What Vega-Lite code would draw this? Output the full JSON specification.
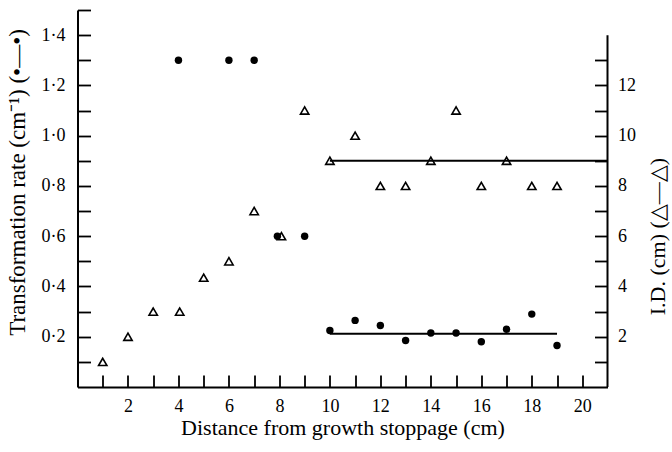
{
  "$schema": "https://vega.github.io/schema/vega-lite/v6.json",
  "width": 530,
  "height": 377,
  "autosize": "none",
  "padding": {"left": 77.5, "top": 10, "right": 64.5, "bottom": 65},
  "background": "white",
  "config": {
    "view": {"stroke": null},
    "font": "Liberation Serif",
    "axis": {
      "grid": false,
      "domainColor": "black",
      "tickColor": "black",
      "labelColor": "black",
      "titleColor": "black",
      "labelFont": "Liberation Serif",
      "titleFont": "Liberation Serif",
      "titleFontWeight": "normal",
      "labelFontSize": 18,
      "titleFontSize": 22,
      "domainWidth": 2,
      "tickWidth": 1.8,
      "tickCount": 100,
      "labelOverlap": false,
      "labelFlush": false
    }
  },
  "datasets": {
    "rate": [
      {"distance": 4, "rate": 1.30},
      {"distance": 6, "rate": 1.30},
      {"distance": 7, "rate": 1.30},
      {"distance": 7.92, "rate": 0.60},
      {"distance": 9, "rate": 0.60},
      {"distance": 10, "rate": 0.225},
      {"distance": 11, "rate": 0.265},
      {"distance": 12, "rate": 0.245},
      {"distance": 13, "rate": 0.185},
      {"distance": 14, "rate": 0.215},
      {"distance": 15, "rate": 0.215},
      {"distance": 16, "rate": 0.18},
      {"distance": 17, "rate": 0.23},
      {"distance": 18, "rate": 0.29},
      {"distance": 19, "rate": 0.165}
    ],
    "id": [
      {"distance": 1, "id": 1},
      {"distance": 2, "id": 2},
      {"distance": 3, "id": 3},
      {"distance": 4.05, "id": 3},
      {"distance": 5, "id": 4.35},
      {"distance": 6, "id": 5},
      {"distance": 7, "id": 7},
      {"distance": 8.08, "id": 6},
      {"distance": 9, "id": 11},
      {"distance": 10, "id": 9},
      {"distance": 11, "id": 10},
      {"distance": 12, "id": 8},
      {"distance": 13, "id": 8},
      {"distance": 14, "id": 9},
      {"distance": 15, "id": 11},
      {"distance": 16, "id": 8},
      {"distance": 17, "id": 9},
      {"distance": 18, "id": 8},
      {"distance": 19, "id": 8}
    ],
    "rateLine": [{"distance": 10, "distance_end": 19, "rate": 0.212}],
    "idLine": [{"distance": 10, "distance_end": 21, "id": 9}]
  },
  "layer": [
    {
      "layer": [
        {
          "data": {"name": "rate"},
          "mark": {"type": "point", "shape": "circle", "filled": true, "color": "black", "size": 55, "opacity": 1},
          "encoding": {
            "x": {
              "field": "distance",
              "type": "quantitative",
              "scale": {"domain": [0, 21], "nice": false, "zero": false},
              "axis": {
                "orient": "bottom",
                "values": [1, 2, 3, 4, 5, 6, 7, 8, 9, 10, 11, 12, 13, 14, 15, 16, 17, 18, 19, 20],
                "format": "d",
                "tickSize": -12,
                "labelPadding": 22,
                "labelExpr": "datum.value % 2 == 0 ? datum.label : ''",
                "title": "Distance from growth stoppage (cm)",
                "titleFontSize": 22,
                "titleX": 265,
                "titleY": 47,
                "titleAlign": "center",
                "titleBaseline": "alphabetic"
              }
            },
            "y": {
              "field": "rate",
              "type": "quantitative",
              "scale": {"domain": [0, 1.5], "nice": false, "zero": false},
              "axis": {
                "orient": "left",
                "values": [0.1, 0.2, 0.3, 0.4, 0.5, 0.6, 0.7, 0.8, 0.9, 1.0, 1.1, 1.2, 1.3, 1.4, 1.5],
                "tickSize": -13,
                "labelPadding": 25.5,
                "labelExpr": "(round(datum.value * 10) % 2 == 0 && datum.value < 1.45) ? replace(format(datum.value, '.1f'), '.', '·') : ''",
                "title": "Transformation rate (cm⁻¹) (•—•)",
                "titleFontSize": 23,
                "titleAngle": 270,
                "titleX": -53,
                "titleY": 172,
                "titleAlign": "center",
                "titleBaseline": "alphabetic"
              }
            }
          }
        },
        {
          "data": {"name": "rateLine"},
          "mark": {"type": "rule", "color": "black", "strokeWidth": 2},
          "encoding": {
            "x": {"field": "distance", "type": "quantitative"},
            "x2": {"field": "distance_end"},
            "y": {"field": "rate", "type": "quantitative"}
          }
        }
      ]
    },
    {
      "layer": [
        {
          "data": {"name": "id"},
          "mark": {"type": "point", "shape": "triangle-up", "filled": false, "color": "black", "strokeWidth": 1.6, "size": 70, "opacity": 1},
          "encoding": {
            "x": {"field": "distance", "type": "quantitative"},
            "y": {
              "field": "id",
              "type": "quantitative",
              "scale": {"domain": [0, 15], "nice": false, "zero": false},
              "axis": {
                "orient": "right",
                "domain": false,
                "values": [1, 2, 3, 4, 5, 6, 7, 8, 9, 10, 11, 12, 13],
                "format": "d",
                "tickSize": -13,
                "labelPadding": 23,
                "labelExpr": "datum.value % 2 == 0 ? datum.label : ''",
                "title": "I.D. (cm) (△—△)",
                "titleFontSize": 22,
                "titleAngle": 270,
                "titleX": 57,
                "titleY": 226,
                "titleAlign": "center",
                "titleBaseline": "alphabetic"
              }
            }
          }
        },
        {
          "data": {"name": "idLine"},
          "mark": {"type": "rule", "color": "black", "strokeWidth": 2},
          "encoding": {
            "x": {"field": "distance", "type": "quantitative"},
            "x2": {"field": "distance_end"},
            "y": {"field": "id", "type": "quantitative"}
          }
        },
        {
          "data": {"values": [{}]},
          "mark": {"type": "rule", "color": "black", "strokeWidth": 2},
          "encoding": {
            "x": {"datum": 21, "type": "quantitative"},
            "y": {"datum": 0, "type": "quantitative"},
            "y2": {"datum": 14}
          }
        }
      ]
    }
  ],
  "resolve": {"scale": {"y": "independent"}}
}
